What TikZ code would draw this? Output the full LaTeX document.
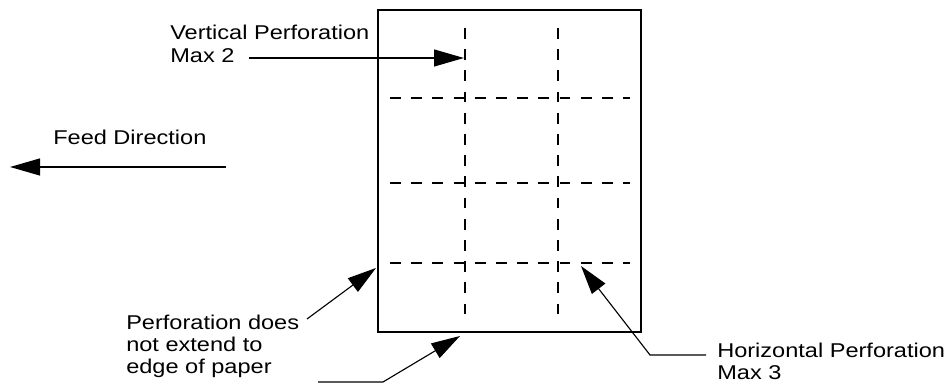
\documentclass[tikz,border=0pt]{standalone}
\usepackage{fontspec}
\setmainfont{Liberation Sans}[FakeStretch=1.18]
\usetikzlibrary{arrows.meta,positioning}

\begin{document}
\begin{tikzpicture}[
    txt/.style={font=\fontsize{14.2}{16}\selectfont,align=left,inner sep=0pt,anchor=base west},
    paper/.style={draw,line width=1.6pt,inner sep=0pt,minimum width=6.575cm,minimum height=8.05cm,anchor=south west},
    perf/.style={line width=1.4pt,dash pattern=on 0.27cm off 0.26cm},
    bigarrow/.style={-{Triangle[length=0.75cm,width=0.42cm]},line width=1.3pt},
    leader/.style={-{Triangle[length=0.72cm,width=0.42cm]},line width=0.8pt}
]
\useasboundingbox (0,0) rectangle (23.75,9.625);

% sheet with perforations
\node[paper] (sheet) at (9.425,1.2875) {};
\foreach \x/\n in {11.625/1,13.95/2}{
    \coordinate (vtop\n) at (\x,8.925);
    \coordinate (vbot\n) at (\x,1.575);
    \draw[perf] (vtop\n) -- (vbot\n);
}
\foreach \y/\n in {7.175/1,5.05/2,3.05/3}{
    \coordinate (hleft\n) at (9.75,\y);
    \coordinate (hright\n) at (15.75,\y);
    \draw[perf] (hleft\n) -- (hright\n);
}

% labels (base = last line)
\node[txt] (vertlbl) at (4.25,8.0675) {Vertical Perforation\\Max 2};
\node[txt] (feedlbl) at (1.325,6.0) {Feed Direction};
\node[txt] (edgelbl) at (3.15,0.275) {Perforation does\\not extend to\\edge of paper};
\node[txt] (horlbl) at (17.925,0.125) {Horizontal Perforation\\Max 3};

% arrows
\coordinate (vpstart) at (6.225,8.175);
\coordinate (vptip) at (11.6,8.175);
\draw[bigarrow] (vpstart) -- (vptip);

\coordinate (feedstart) at (5.65,5.45);
\coordinate (feedtip) at (0.25,5.45);
\draw[bigarrow] (feedstart) -- (feedtip);

\coordinate (sidestart) at (7.675,1.65);
\coordinate (sidetip) at (9.4,2.925);
\draw[leader] (sidestart) -- (sidetip);

\coordinate (botstart) at (7.95,0.075);
\coordinate (botbend) at (9.575,0.075);
\coordinate (bottip) at (11.5,1.225);
\draw[leader] (botstart) -- (botbend) -- (bottip);

\coordinate (horstart) at (17.65,0.75);
\coordinate (horbend) at (16.25,0.75);
\coordinate (hortip) at (14.525,2.975);
\draw[leader] (horstart) -- (horbend) -- (hortip);

\end{tikzpicture}
\end{document}
